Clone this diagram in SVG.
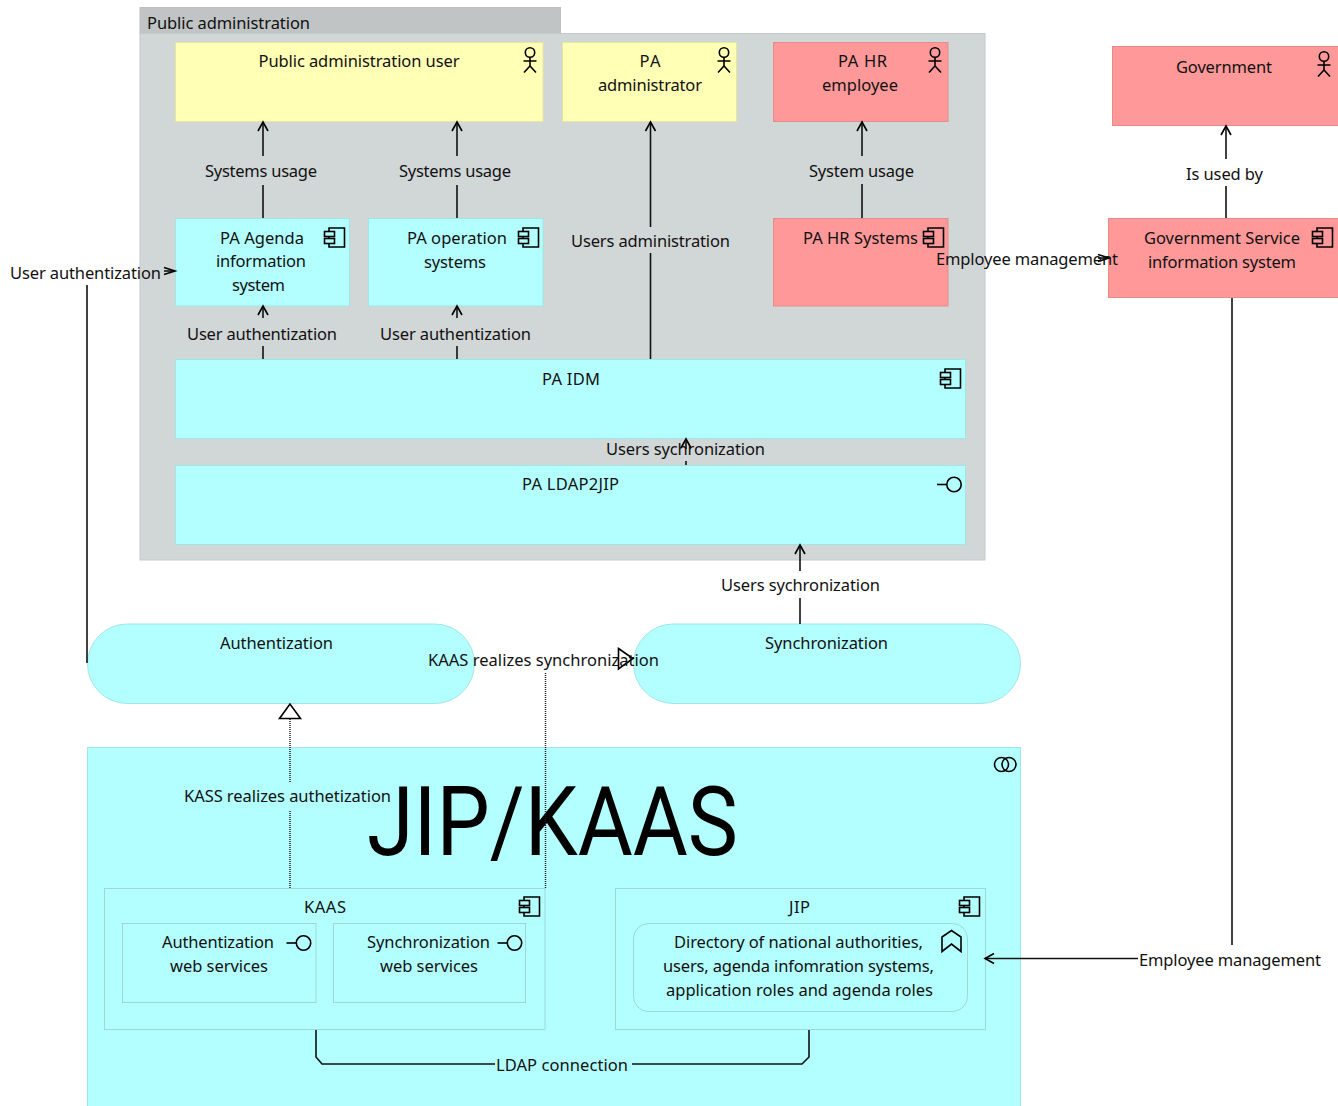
<svg xmlns="http://www.w3.org/2000/svg" width="1338" height="1106" viewBox="0 0 1338 1106">
<style>
text{font-family:"Noto Sans","Open Sans","Liberation Sans",sans-serif;font-size:16.5px;fill:#111}
text.big{font-family:Roboto,"Noto Sans",sans-serif;font-size:96px;font-weight:400;fill:#000}
.y{fill:#ffffb5;stroke:#e6e6a3}
.r{fill:#ff9999;stroke:#e68a8a}
.c{fill:#b3ffff;stroke:#a1e6e6}
.in{fill:#b3ffff;stroke:#a1d6d6}
.g{fill:#d1d6d6;stroke:#c4c9c9}
.t{fill:#c0c4c4;stroke:#bcc0c0}
.ic{fill:none;stroke:#000;stroke-width:1.6}
.l{fill:none;stroke:#111;stroke-width:1.6}
.d{fill:none;stroke:#222;stroke-width:1.5;stroke-dasharray:1 1}
.a{marker-end:url(#arr)}
.n{marker-end:url(#nar)}
</style>
<defs>
<marker id="arr" markerUnits="userSpaceOnUse" markerWidth="14" markerHeight="14" refX="11" refY="7" orient="auto" overflow="visible"><path d="M2,2 L11,7 L2,12" fill="none" stroke="#000" stroke-width="1.6"/></marker>
<marker id="nar" markerUnits="userSpaceOnUse" markerWidth="14" markerHeight="14" refX="12" refY="7" orient="auto" overflow="visible"><path d="M1,3.5 L12,7 L1,10.5" fill="none" stroke="#000" stroke-width="1.6"/></marker>
<g id="comp" class="ic"><path d="M5,4.500 V1 H20.500 V20 H5 V16.500 M5,9.500 V11.500"/><rect x="0.500" y="4.500" width="10" height="5"/><rect x="0.500" y="11.500" width="10" height="5"/></g>
<g id="actor" class="ic"><circle cx="0" cy="0" r="4.700"/><path d="M0,4.700 V13.500 M-6.500,8.500 H6.500 M-6,20 L0,13.500 L6,20"/></g>
<g id="iface" class="ic"><circle cx="0" cy="0" r="7.200"/><path d="M-17,0 H-7.200"/></g>
</defs>

<g id="public-administration">
<rect class="t" x="140" y="7.500" width="420.500" height="26"/>
<rect class="g" x="140" y="33.500" width="845" height="526.500"/>
<text x="147" y="28.500" textLength="163">Public administration</text>
</g>
<g id="pa-user"><rect class="y" x="175.500" y="42.500" width="367.500" height="79"/><text x="258.500" y="67" textLength="201">Public administration user</text><use href="#actor" x="530" y="52.500"/></g>
<g id="pa-admin"><rect class="y" x="562.500" y="42.500" width="174" height="79"/><text x="639.500" y="67" textLength="21">PA</text><text x="598" y="91" textLength="104">administrator</text><use href="#actor" x="724" y="52.500"/></g>
<g id="pa-hr-employee"><rect class="r" x="773.500" y="42.500" width="174.500" height="79"/><text x="838" y="67" textLength="49">PA HR</text><text x="822" y="91" textLength="76">employee</text><use href="#actor" x="935" y="52.500"/></g>
<g id="government"><rect class="r" x="1112.500" y="46.500" width="226" height="79"/><text x="1176" y="73" textLength="96">Government</text><use href="#actor" x="1324" y="56.500"/></g>
<g id="gov-service"><rect class="r" x="1108.500" y="218.500" width="230" height="79"/><text x="1144" y="244" textLength="156">Government Service</text><text x="1148" y="268" textLength="148">information system</text><use href="#comp" x="1312" y="227"/></g>
<g id="pa-agenda"><rect class="c" x="175.500" y="218.500" width="174" height="87.500"/><text x="220" y="244" textLength="84">PA Agenda</text><text x="216" y="267" textLength="90">information</text><text x="232" y="291" textLength="53">system</text><use href="#comp" x="324" y="227"/></g>
<g id="pa-operation"><rect class="c" x="368.500" y="218.500" width="174.500" height="87.500"/><text x="407" y="244" textLength="100">PA operation</text><text x="424" y="268" textLength="62">systems</text><use href="#comp" x="518" y="227"/></g>
<g id="pa-hr-systems"><rect class="r" x="773.500" y="218.500" width="174.500" height="87.500"/><text x="803" y="244" textLength="115">PA HR Systems</text><use href="#comp" x="923" y="227"/></g>
<g id="pa-idm"><rect class="c" x="175.500" y="359.500" width="790" height="79"/><text x="542" y="385" textLength="58">PA IDM</text><use href="#comp" x="940" y="368"/></g>
<g id="pa-ldap2jip"><rect class="c" x="175.500" y="465.500" width="790" height="79"/><text x="522" y="490" textLength="97">PA LDAP2JIP</text><use href="#iface" x="954" y="484.500"/></g>
<g id="authentication"><rect class="c" x="87.500" y="624" width="387" height="79.500" rx="39.750"/><text x="220" y="649" textLength="113">Authentization</text></g>
<g id="synchronization"><rect class="c" x="633.500" y="624" width="387" height="79.500" rx="39.750"/><text x="765" y="649" textLength="123">Synchronization</text></g>
<g id="jip-kaas"><rect class="c" x="87.500" y="747.500" width="933" height="360"/><circle class="ic" cx="1001.500" cy="764.500" r="7"/><circle class="ic" cx="1009" cy="764.500" r="7"/><text class="big" x="367" y="855" textLength="371" lengthAdjust="spacingAndGlyphs">JIP/KAAS</text></g>
<g id="kaas"><rect class="in" x="104.500" y="888.500" width="440.500" height="141"/><text x="304" y="913" textLength="42">KAAS</text><use href="#comp" x="519" y="896"/></g>
<g id="auth-ws"><rect class="in" x="122.500" y="923.500" width="193.500" height="79"/><text x="162" y="948" textLength="112">Authentization</text><text x="170" y="972" textLength="98">web services</text><use href="#iface" x="303.500" y="943"/></g>
<g id="sync-ws"><rect class="in" x="333.500" y="923.500" width="192" height="79"/><text x="367" y="948" textLength="123">Synchronization</text><text x="380" y="972" textLength="98">web services</text><use href="#iface" x="514.500" y="943"/></g>
<g id="jip"><rect class="in" x="615.500" y="888.500" width="370" height="141"/><text x="789" y="913" textLength="21">JIP</text><use href="#comp" x="959" y="896"/></g>
<g id="directory"><rect class="in" x="633.500" y="923.500" width="334" height="88" rx="15"/><text x="674" y="948" textLength="249">Directory of national authorities,</text><text x="663" y="972" textLength="271">users, agenda infomration systems,</text><text x="666" y="996" textLength="267">application roles and agenda roles</text><path class="ic" d="M942,937 L951.500,930.500 L961,937 V951.500 L951.500,944 L942,951.500 Z"/></g>

<g id="connectors">
<path class="l" d="M263,218 V185"/><path class="l a" d="M263,156 V122"/><text x="205" y="176.500" textLength="112">Systems usage</text>
<path class="l" d="M457,218 V185"/><path class="l a" d="M457,156 V122"/><text x="399" y="176.500" textLength="112">Systems usage</text>
<path class="l" d="M650.500,359 V253"/><path class="l a" d="M650.500,227 V122"/><text x="571" y="247" textLength="159">Users administration</text>
<path class="l" d="M862,218 V184"/><path class="l a" d="M862,156 V122"/><text x="809" y="176.500" textLength="105">System usage</text>
<path class="l" d="M1226,218 V186"/><path class="l a" d="M1226,159 V126"/><text x="1186" y="179.500" textLength="77">Is used by</text>
<path class="l" d="M263,359 V346"/><path class="l a" d="M263,318 V306"/><text x="187" y="340" textLength="150">User authentization</text>
<path class="l" d="M457,359 V346"/><path class="l a" d="M457,318 V306"/><text x="380" y="340" textLength="151">User authentization</text>
<path class="l" d="M686,465 V461"/><path class="l a" d="M686,449 V439"/><text x="606" y="454.500" textLength="159">Users sychronization</text>
<path class="l" d="M800,624 V598"/><path class="l a" d="M800,571 V545"/><text x="721" y="590.500" textLength="159">Users sychronization</text>
<path class="l" d="M87,663 V285"/><path class="l n" d="M164,271 H175"/><text x="10" y="279" textLength="151">User authentization</text>
<path class="l" d="M1232,298 V945"/><path class="l a" d="M1138,958.500 H985"/><text x="1139" y="965.500" textLength="182">Employee management</text>
<path class="l n" d="M1098,258 H1109"/><text x="936" y="265" textLength="182">Employee management</text>
<path class="d" d="M545.500,888 V672"/><path class="ic" d="M618.500,648.500 L633,658.500 L618.500,669 Z"/><text x="428" y="666" textLength="231">KAAS realizes synchronization</text>
<path class="d" d="M290,888 V810 M290,782 V719"/><path d="M290,704 L279.500,718.500 H300.500 Z" fill="#fff" stroke="#000" stroke-width="1.6"/><text x="184" y="802" textLength="207">KASS realizes authetization</text>
<path class="l" d="M316,1030 V1057 L322,1064 H495 M632,1064 H802 L809,1057 V1030"/><text x="496" y="1071" textLength="132">LDAP connection</text>
</g>
</svg>
